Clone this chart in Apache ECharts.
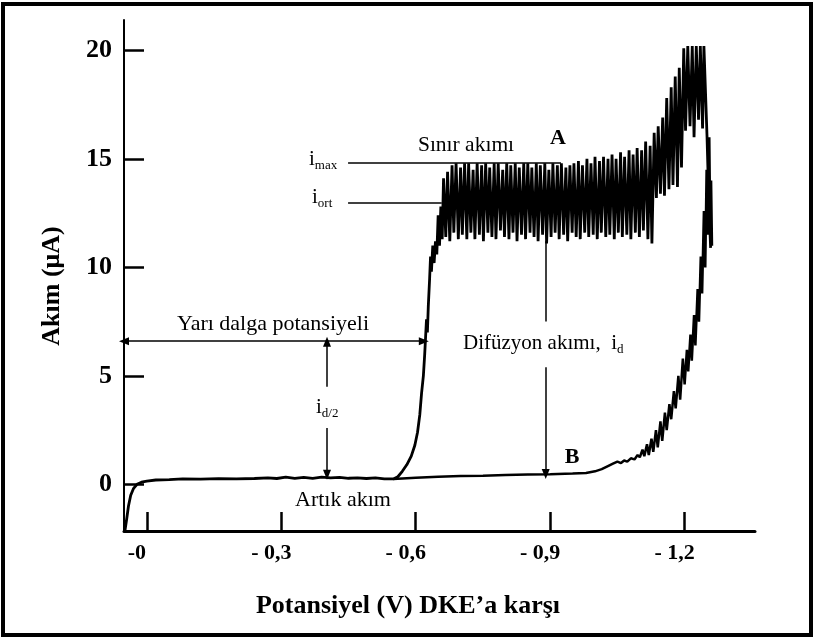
<!DOCTYPE html>
<html>
<head>
<meta charset="utf-8">
<script src="https://cdn.jsdelivr.net/npm/echarts@6/dist/echarts.min.js"></script>
<style>
html,body{margin:0;padding:0;background:#fff;}
#chart{width:815px;height:639px;}
</style>
</head>
<body>
<div id="chart"></div>
<script>
// ---- data (x = negative potential magnitude in V, y = current in µA) ----
const xTickValues = [0, 0.3, 0.6, 0.9, 1.2];
const xTickLabels = ['-0', '- 0,3', '- 0,6', '- 0,9', '- 1,2'];
const yTickValues = [0, 5, 10, 15, 20];
const yTickLabels = ['0', '5', '10', '15', '20'];

// residual current (shared start of both curves)
const baselineA = [
  [-0.049,-2.15],[-0.045,-1.6],[-0.041,-1.0],[-0.036,-0.5],[-0.030,-0.2],[-0.022,0.0],
  [-0.012,0.1],[0.000,0.15],[0.020,0.2],[0.050,0.22],[0.080,0.25],[0.120,0.24],
  [0.160,0.26],[0.200,0.25],[0.240,0.27],[0.270,0.30],[0.290,0.27],[0.310,0.33],
  [0.330,0.28],[0.350,0.32],[0.370,0.28],[0.390,0.33],[0.410,0.30],[0.430,0.32],
  [0.450,0.28],[0.470,0.30],[0.490,0.27],[0.510,0.30],[0.530,0.25],[0.550,0.25]
];
// polarographic wave of curve A
const waveA = [
  [0.560,0.35],[0.570,0.6],[0.580,0.9],[0.590,1.3],[0.598,1.8],[0.604,2.4],[0.609,3.2],
  [0.613,4.2],[0.617,5.0],[0.620,6.0],[0.622,6.8],[0.624,7.6],[0.626,7.0],[0.628,8.2],
  [0.631,9.5],[0.633,10.5],[0.635,9.8],[0.638,11.0],[0.641,10.2],[0.644,11.2],
  [0.647,10.6],[0.650,12.4],[0.653,11.0],[0.656,12.8],[0.659,11.3]
];
// limiting current plateau of curve A (drop oscillations)
const plateauA = [
  [0.662,14.1],[0.667,11.4],[0.671,14.4],[0.676,11.2],[0.681,14.7],[0.685,11.6],
  [0.690,14.8],[0.695,11.3],[0.700,14.6],[0.704,11.5],[0.709,14.8],[0.714,11.3],
  [0.718,14.8],[0.723,11.6],[0.728,14.5],[0.732,11.3],[0.737,14.8],[0.742,11.5],
  [0.747,14.7],[0.751,11.2],[0.756,14.8],[0.761,11.6],[0.765,14.6],[0.770,11.4],
  [0.775,14.8],[0.779,11.3],[0.784,14.8],[0.789,11.7],[0.794,14.5],[0.798,11.4],
  [0.803,14.8],[0.808,11.3],[0.812,14.7],[0.817,11.6],[0.822,14.8],[0.826,11.2],
  [0.831,14.6],[0.836,11.5],[0.841,14.8],[0.845,11.3],[0.850,14.8],[0.855,11.6],
  [0.859,14.6],[0.864,11.4],[0.869,14.8],[0.873,11.2],[0.878,14.7],[0.883,11.5],
  [0.888,14.8],[0.892,11.1],[0.897,14.5],[0.902,11.4],[0.906,14.8],[0.911,11.6],
  [0.916,14.7],[0.920,11.3],[0.925,14.8],[0.930,11.5],[0.935,14.6],[0.939,11.2],
  [0.944,14.7],[0.949,11.6],[0.953,14.8],[0.958,11.4],[0.963,14.9],[0.967,11.3],
  [0.972,14.7],[0.977,11.6],[0.982,15.0],[0.986,11.4],[0.991,14.8],[0.996,11.5],
  [1.000,15.1],[1.005,11.3],[1.010,14.9],[1.014,11.6],[1.019,15.1],[1.024,11.4],
  [1.029,15.0],[1.033,11.5],[1.038,15.2],[1.043,11.3],[1.047,15.0],[1.052,11.6],
  [1.057,15.3],[1.061,11.4],[1.066,15.1],[1.071,11.5],[1.076,15.4],[1.080,11.3],
  [1.085,15.2],[1.090,11.6],[1.094,15.5],[1.099,11.4],[1.104,15.4],[1.108,11.7],
  [1.113,15.8],[1.118,11.3],[1.123,15.6],[1.127,11.1],[1.132,16.2],[1.137,13.2],
  [1.141,16.5],[1.146,13.4],[1.151,16.9],[1.155,13.3],[1.160,17.8],[1.165,13.6],
  [1.170,18.3],[1.174,13.8],[1.179,18.8],[1.184,13.7],[1.188,19.2],[1.193,14.6],
  [1.198,20.1],[1.202,16.3],[1.207,20.2],[1.212,16.5],[1.217,20.2],[1.221,16.0],
  [1.226,20.2],[1.231,16.8],[1.235,20.2],[1.240,16.4]
];
const tailA = [[1.243,20.2],[1.246,20.2],[1.250,16.0],[1.254,13.0],[1.258,10.9]];

// curve B: supporting electrolyte only (branches off the residual line)
const curveB = [
  [0.550,0.25],[0.600,0.30],[0.650,0.35],[0.700,0.38],[0.750,0.40],[0.800,0.43],
  [0.850,0.45],[0.900,0.47],[0.950,0.50],[0.980,0.52],[1.000,0.60],[1.015,0.70],
  [1.030,0.85],[1.040,0.95],[1.050,1.05],[1.058,0.98],[1.065,1.10],[1.072,1.05],
  [1.080,1.20],[1.088,1.15],[1.095,1.35],[1.100,1.25],[1.106,1.60],[1.110,1.30],
  [1.116,1.85],[1.120,1.35],[1.126,2.10],[1.130,1.50],[1.136,2.50],[1.140,1.70],
  [1.146,2.90],[1.150,2.00],[1.156,3.30],[1.160,2.50],[1.166,3.70],[1.170,3.00],
  [1.176,4.30],[1.180,3.50],[1.186,5.00],[1.190,3.90],[1.196,5.80],[1.200,4.60],
  [1.205,6.20],[1.208,5.20],[1.213,6.90],[1.216,5.70],[1.221,7.80],[1.224,6.40],
  [1.229,9.00],[1.232,7.50],[1.236,10.5],[1.239,8.80],[1.243,12.6],[1.246,10.0],
  [1.249,14.5],[1.252,11.5],[1.255,16.0],[1.257,12.0],[1.259,14.0],[1.261,11.0]
];

// annotation guides in data units: [x1,y1,x2,y2,startArrow,endArrow]
const guides = [
  [-0.051, 6.6, 0.618, 6.6, true, true],     // half-wave potential
  [0.402, 6.57, 0.402, 4.5, true, false],     // i_d/2 upper part
  [0.402, 2.6, 0.402, 0.44, false, true],     // i_d/2 lower part
  [0.890, 11.2, 0.890, 7.5, false, false],    // diffusion current upper part
  [0.890, 5.4, 0.890, 0.48, false, true],     // diffusion current lower part
  [0.449, 14.8, 0.924, 14.8, false, false],   // i_max level
  [0.449, 13.0, 0.658, 13.0, false, false]    // i_ort level
];

const curveA = baselineA.concat(waveA, plateauA, tailA);

const SERIF = '"Liberation Serif", "DejaVu Serif", serif';
const chart = echarts.init(document.getElementById('chart'), null, {renderer: 'canvas'});

const markData = guides.map(g => [
  {coord: [g[0], g[1]], symbol: g[4] ? 'triangle' : 'none'},
  {coord: [g[2], g[3]], symbol: g[5] ? 'triangle' : 'none'}
]);

function sub(main, s, x, y, align) {
  return {
    type: 'text', x: x, y: y, silent: true,
    style: {
      text: '{m|' + main + '}{s|' + s + '}',
      align: align || 'left', verticalAlign: 'middle',
      rich: {
        m: {fontFamily: SERIF, fontSize: 21, lineHeight: 27, fill: '#000'},
        s: {fontFamily: SERIF, fontSize: 13, lineHeight: 13, verticalAlign: 'bottom', fill: '#000'}
      }
    }
  };
}
function txt(t, x, y, size, bold, rot) {
  return {
    type: 'text', x: x, y: y, rotation: rot || 0, silent: true,
    style: {text: t, fontFamily: SERIF, fontSize: size, fontWeight: bold ? 'bold' : 'normal',
            fill: '#000', align: 'center', verticalAlign: 'middle'}
  };
}

chart.setOption({
  animation: false,
  backgroundColor: '#fff',
  grid: {left: 124, right: 60, top: 20, bottom: 108, outerBoundsMode: 'none', containLabel: false},
  xAxis: {
    type: 'value', min: -0.051, max: 1.357,
    axisLine: {show: true, onZero: false, lineStyle: {color: '#000', width: 3}},
    axisTick: {show: true, inside: true, length: 19, customValues: xTickValues,
               lineStyle: {color: '#000', width: 2.5}},
    axisLabel: {customValues: xTickValues, margin: 11, color: '#000', fontFamily: SERIF,
                fontSize: 22, fontWeight: 'bold', padding: [0, 20, 0, 0],
                formatter: v => { const i = xTickValues.indexOf(v); return i >= 0 ? xTickLabels[i] : ''; }},
    splitLine: {show: false}
  },
  yAxis: {
    type: 'value', min: -2.15, max: 21.4,
    axisLine: {show: true, onZero: false, lineStyle: {color: '#000', width: 2}},
    axisTick: {show: true, inside: true, length: 20, customValues: yTickValues,
               lineStyle: {color: '#000', width: 2.5}},
    axisLabel: {customValues: yTickValues, margin: 12, color: '#000', fontFamily: SERIF,
                fontSize: 26, fontWeight: 'bold',
                formatter: v => { const i = yTickValues.indexOf(v); return i >= 0 ? yTickLabels[i] : ''; }},
    splitLine: {show: false}
  },
  series: [
    {
      name: 'A', type: 'line', data: curveA, showSymbol: false, silent: true,
      lineStyle: {color: '#000', width: 2.8}, sampling: null,
      markLine: {
        silent: true, animation: false, symbolSize: [8, 10], precision: 4,
        label: {show: false},
        lineStyle: {color: '#000', width: 1.5, type: 'solid'},
        emphasis: {disabled: true},
        data: markData
      }
    },
    {
      name: 'B', type: 'line', data: curveB, showSymbol: false, silent: true,
      lineStyle: {color: '#000', width: 2.5}
    }
  ],
  graphic: [
    {type: 'rect', shape: {x: 3, y: 4, width: 808, height: 631}, silent: true,
     style: {fill: 'none', stroke: '#000', lineWidth: 4}},
    txt('Akım (μA)', 52, 286, 26, true, Math.PI / 2),
    txt('Potansiyel (V) DKE’a karşı', 408, 606, 26, true),
    txt('Sınır akımı', 466, 145, 21.5, false),
    txt('A', 558, 138, 22, true),
    txt('B', 572, 457, 22, true),
    txt('Yarı dalga potansiyeli', 273, 324, 22, false),
    txt('Artık akım', 343, 500, 22, false),
    sub('i', 'max', 309, 159),
    sub('i', 'ort', 312, 197),
    sub('i', 'd/2', 316, 407),
    sub('Difüzyon akımı,  i', 'd', 463, 343)
  ]
});
</script>
</body>
</html>
